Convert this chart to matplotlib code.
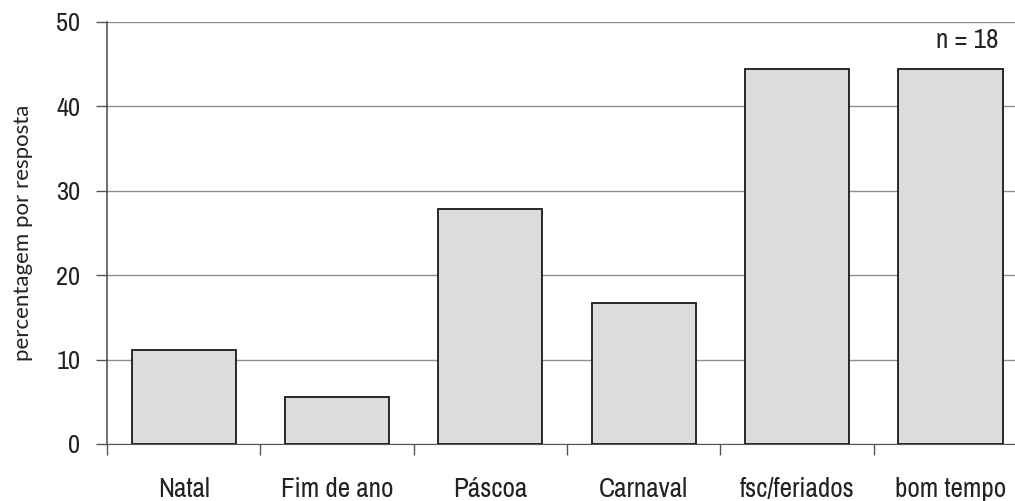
import matplotlib.pyplot as plt
from matplotlib import font_manager

# --- Data ---
categories = ["Natal", "Fim de ano", "Páscoa", "Carnaval", "fsc/feriados", "bom tempo"]
percent = [11.1, 5.6, 27.8, 16.7, 44.4, 44.4]
n_label = "n = 18"
y_ticks = [0, 10, 20, 30, 40, 50]

# --- Font: prefer a narrow / condensed sans if one is installed ---
fonts = font_manager.fontManager.ttflist
narrow = [f.name for f in fonts if "Narrow" in f.name or "Condensed" in f.name]
condensed = [f.name for f in fonts if f.stretch in ("condensed", "semi-condensed")]
if narrow:
    family = narrow[0]
elif condensed:
    family = condensed[0]
else:
    family = "DejaVu Sans"
plt.rcParams["font.family"] = [family, "DejaVu Sans"]
plt.rcParams["font.stretch"] = "condensed"

fig = plt.figure(figsize=(10.15, 5.01), dpi=100)
ax = fig.add_axes([0.1054, 0.1138, 0.9065, 0.8423])

x = list(range(len(categories)))
ax.bar(x, percent, width=0.68, color="#dcdcdc", edgecolor="#1a1a1a",
       linewidth=1.3, zorder=3)

ax.set_xlim(-0.5, len(categories) - 0.5)
ax.set_ylim(0, 50)
ax.set_yticks(y_ticks)
ax.tick_params(axis="y", length=8, width=1, color="#555555", labelsize=19,
               labelcolor="#222222", pad=11)

# category labels under the bars, tick marks at the boundaries
ax.set_xticks(x)
ax.set_xticklabels(categories)
ax.tick_params(axis="x", which="major", length=0, labelsize=19.5,
               labelcolor="#222222", pad=24)
ax.set_xticks([i - 0.5 for i in range(len(categories) + 1)], minor=True)
ax.tick_params(axis="x", which="minor", length=8, width=1, color="#555555")

ax.grid(axis="y", color="#909090", linewidth=1.0, zorder=0)
for side in ["top", "right"]:
    ax.spines[side].set_visible(False)
ax.spines["left"].set_color("#555555")
ax.spines["bottom"].set_color("#555555")
ax.spines["left"].set_linewidth(1.2)

ax.set_ylabel("percentagem por resposta", fontsize=16, color="#222222",
              family=["Lato", "DejaVu Sans"], fontstretch="normal", labelpad=17)
ax.text(0.9685, 0.957, n_label, transform=ax.transAxes, ha="right", va="center",
        fontsize=19.5, color="#222222")

plt.savefig("out.png", dpi=100)
